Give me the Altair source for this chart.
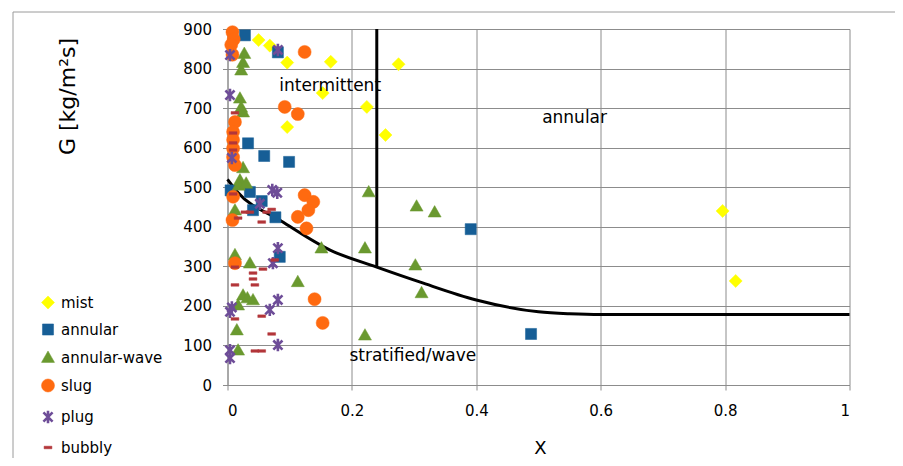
import altair as alt
import pandas as pd

# ---------------- data ----------------
series_names = ["mist", "annular", "annular-wave", "slug", "plug", "bubbly"]

mist_x = [0.05, 0.068, 0.096, 0.166, 0.275, 0.153, 0.224, 0.096, 0.254, 0.796, 0.817]
mist_G = [872, 858, 815, 817, 811, 738, 703, 652, 632, 440, 263]

annular_x = [0.028, 0.081, 0.033, 0.059, 0.099, 0.005, 0.036, 0.041, 0.055, 0.077, 0.084, 0.391, 0.488]
annular_G = [884, 841, 611, 579, 564, 492, 488, 442, 465, 424, 324, 394, 129]

wave_x = [0.027, 0.025, 0.022, 0.02, 0.022, 0.025, 0.025, 0.02, 0.018, 0.03, 0.012, 0.012,
          0.036, 0.025, 0.032, 0.041, 0.017, 0.015, 0.017, 0.113, 0.151, 0.221, 0.221,
          0.227, 0.304, 0.333, 0.302, 0.312]
wave_G = [838, 815, 796, 725, 702, 690, 549, 518, 505, 510, 442, 329,
          308, 227, 220, 215, 202, 139, 88, 261, 346, 346, 126,
          488, 452, 437, 303, 233]

slug_x = [0.008, 0.01, 0.006, 0.008, 0.124, 0.092, 0.113, 0.012, 0.009, 0.009, 0.009, 0.009,
          0.012, 0.009, 0.008, 0.012, 0.124, 0.138, 0.13, 0.113, 0.127, 0.14, 0.153]
slug_G = [892, 874, 860, 835, 842, 703, 685, 665, 640, 620, 598, 576,
          556, 476, 417, 308, 480, 463, 442, 425, 396, 217, 157]

plug_x = [0.004, 0.081, 0.004, 0.007, 0.072, 0.08, 0.052, 0.081, 0.073, 0.007, 0.004,
          0.081, 0.068, 0.081, 0.004, 0.004]
plug_G = [834, 847, 733, 574, 493, 486, 458, 346, 308, 196, 185,
          215, 190, 101, 88, 68]

bubbly_x = [0.012, 0.009, 0.009, 0.009, 0.009, 0.017, 0.028, 0.036, 0.055, 0.063, 0.071,
            0.076, 0.057, 0.041, 0.041, 0.044, 0.012, 0.012, 0.055, 0.012, 0.071, 0.044, 0.055]
bubbly_G = [688, 637, 612, 594, 483, 422, 437, 437, 412, 437, 444,
            316, 293, 283, 268, 253, 253, 298, 174, 167, 129, 86, 86]

# boundary lines
curve_x = [0.0, 0.016, 0.084, 0.165, 0.24, 0.31, 0.4, 0.5, 0.55, 0.6, 1.0]
curve_G = [520, 488, 417, 341, 298, 260, 215, 185, 180, 178, 178]
vline_x = [0.24, 0.24]
vline_G = [298, 900]

# region labels
ann_text = ["intermittent", "annular", "stratified/wave"]
ann_x = [0.165, 0.558, 0.298]
ann_G = [756, 675, 73]

x_ticks = [0, 0.2, 0.4, 0.6, 0.8, 1]
y_ticks = [0, 100, 200, 300, 400, 500, 600, 700, 800, 900]

# ---------------- styling ----------------
colors = ["#FFFF00", "#165E96", "#6A992F", "#FF6A10", "#6E4D98", "#B3363A"]
shapes = [
    "M0,-1L1,0L0,1L-1,0Z",
    "M-0.85,-0.85L0.85,-0.85L0.85,0.85L-0.85,0.85Z",
    "M0,-1L1,0.75L-1,0.75Z",
    "circle",
    "M-0.7,-0.7L0.7,0.7M0.7,-0.7L-0.7,0.7M0,-0.95L0,0.95",
    "M-0.6,-0.2L0.6,-0.2L0.6,0.2L-0.6,0.2Z",
]
stroke_w = [0.5, 0.5, 0.5, 0.5, 2.6, 0.5]

# ---------------- tables ----------------
rows = []
for i, (name, xs, gs) in enumerate([
    ("mist", mist_x, mist_G),
    ("annular", annular_x, annular_G),
    ("annular-wave", wave_x, wave_G),
    ("slug", slug_x, slug_G),
    ("plug", plug_x, plug_G),
    ("bubbly", bubbly_x, bubbly_G),
]):
    for x, g in zip(xs, gs):
        rows.append({"series": name, "x": x, "G": g, "ord": i})
points = pd.DataFrame(rows)

line_rows = []
for j, (x, g) in enumerate(zip(curve_x, curve_G)):
    line_rows.append({"seg": "curve", "x": x, "G": g, "idx": j})
for j, (x, g) in enumerate(zip(vline_x, vline_G)):
    line_rows.append({"seg": "vline", "x": x, "G": g, "idx": j})
lines = pd.DataFrame(line_rows)

ann = pd.DataFrame({"x": ann_x, "G": ann_G, "label": ann_text})

xscale = alt.Scale(domain=[0, 1], nice=False, zero=False)
yscale = alt.Scale(domain=[0, 900], nice=False)

xaxis = alt.Axis(values=x_ticks, format="~g", title="X", titleX=312.5, titleY=63,
                 titleBaseline="middle", titleAlign="center", titleFontSize=18,
                 labelPadding=13)
yaxis = alt.Axis(values=y_ticks, format="d", title="G [kg/m²s]", titleX=-160, titleY=67,
                 titleAngle=-90, titleBaseline="middle", titleAlign="center",
                 titleFontSize=22, labelPadding=11)

X = alt.X("x:Q", scale=xscale, axis=xaxis)
Y = alt.Y("G:Q", scale=yscale, axis=yaxis)

frame = alt.Chart(pd.DataFrame({"a": [0]})).mark_rect(
    fill="transparent", stroke="#9a9a9a", strokeWidth=1
).encode(x=alt.value(-214.5), x2=alt.value(760), y=alt.value(-17), y2=alt.value(480))

line_layer = alt.Chart(lines).mark_line(color="black", strokeWidth=3, interpolate="monotone").encode(
    x=X, y=Y, detail="seg:N", order="idx:Q"
)

pt_layer = alt.Chart(points).mark_point(filled=True, opacity=1, size=170).encode(
    x=X,
    y=Y,
    color=alt.Color("series:N", scale=alt.Scale(domain=series_names, range=colors), legend=alt.Legend(title=None)),
    stroke=alt.Stroke("series:N", scale=alt.Scale(domain=series_names, range=colors), legend=alt.Legend(title=None)),
    shape=alt.Shape("series:N", scale=alt.Scale(domain=series_names, range=shapes), legend=alt.Legend(title=None)),
    strokeWidth=alt.StrokeWidth("series:N", scale=alt.Scale(type="ordinal", domain=series_names, range=stroke_w),
                                legend=alt.Legend(title=None)),
    order=alt.Order("ord:Q"),
)

txt_layer = alt.Chart(ann).mark_text(font="DejaVu Sans", fontSize=17, color="black").encode(
    x=X, y=Y, text="label:N"
)

chart = alt.layer(frame, line_layer, pt_layer, txt_layer).properties(
    width=622, height=356,
    autosize=alt.AutoSizeParams(type="none"),
    padding={"left": 219.5, "top": 21, "right": 45, "bottom": 73},
).configure_view(stroke=None).configure_axis(
    grid=True, gridColor="#8c8c8c", gridWidth=1, domainColor="#8c8c8c", tickColor="#8c8c8c",
    tickSize=5, labelFont="DejaVu Sans", labelFontSize=15, labelColor="black",
    titleFont="DejaVu Sans", titleFontWeight="normal", titleColor="black",
).configure_legend(
    orient="none", legendX=-187.5, legendY=266, labelFont="DejaVu Sans", labelFontSize=15,
    labelColor="black", symbolSize=170, rowPadding=11, labelOffset=5, padding=0,
)

chart.save("out.html", embed_options={"renderer": "svg", "actions": False})
